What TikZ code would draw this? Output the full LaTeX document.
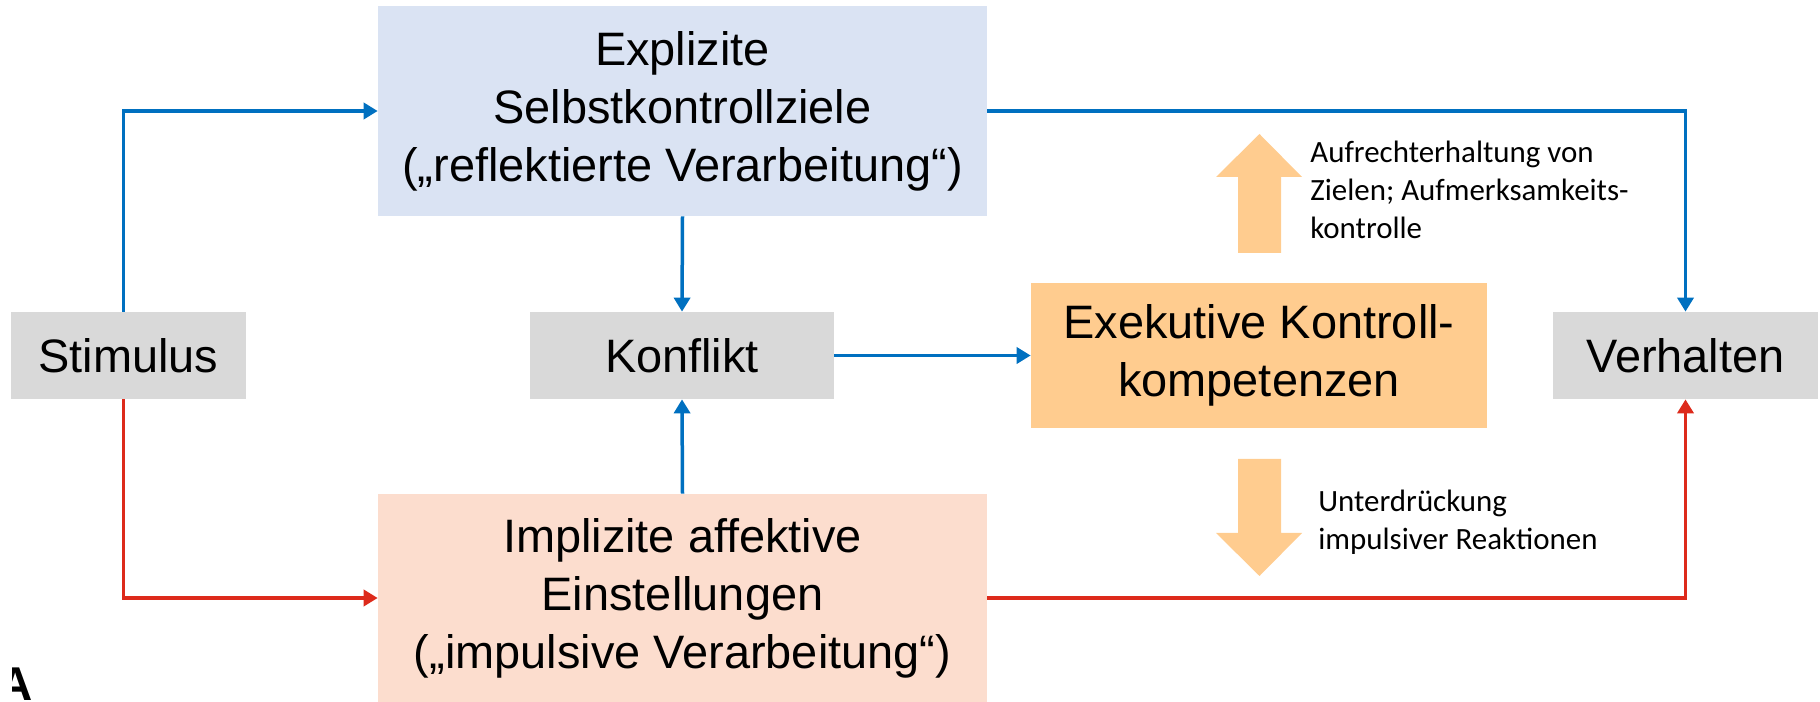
\documentclass[tikz,border=0pt]{standalone}
\usepackage{fontspec}
\setmainfont{Liberation Sans}
\newfontfamily\notefont{Carlito}
\usetikzlibrary{arrows.meta}

\definecolor{explblue}{HTML}{DAE3F3}
\definecolor{implrose}{HTML}{FCDDCE}
\definecolor{boxgray}{HTML}{D9D9D9}
\definecolor{exekorange}{HTML}{FFCC8F}
\definecolor{lineblue}{HTML}{0070C0}
\definecolor{linered}{HTML}{DD2A1B}

\tikzset{
  box/.style={inner sep=0pt, align=center, font=\fontsize{26.7}{33}\selectfont},
  graybox/.style={box, fill=boxgray, minimum height=1.74cm},
  bluearr/.style={draw=lineblue, line width=0.07cm, -{Triangle[length=0.28cm,width=0.32cm]}},
  redarr/.style={bluearr, draw=linered},
  note/.style={anchor=west, align=left, inner sep=0pt, font=\notefont\fontsize{17.6}{21.6}\selectfont},
}

\begin{document}
\begin{tikzpicture}[x=0.02cm, y=-0.02cm]
    \useasboundingbox (0,0) rectangle (1820,702);
    \clip (0,0) rectangle (1820,702);

    % boxes
    \node[graybox, minimum width=4.7cm] (stim) at (128.5,355.5) {Stimulus};
    \node[graybox, minimum width=6.08cm] (konf) at (682,355.5) {Konflikt};
    \node[graybox, minimum width=5.3cm] (verh) at (1685.5,355.5) {Verhalten};
    \node[box, fill=explblue, minimum width=12.18cm, minimum height=4.2cm] (expl) at (682.5,111)
      {Explizite\\Selbstkontrollziele\\(„reflektierte Verarbeitung“)};
    \node[box, fill=implrose, minimum width=12.18cm, minimum height=4.16cm] (impl) at (682.5,598)
      {Implizite affektive\\Einstellungen\\(„impulsive Verarbeitung“)};
    \node[box, fill=exekorange, minimum width=9.12cm, minimum height=2.9cm] (exek) at (1259,355.5)
      {Exekutive Kontroll-\\kompetenzen};

    % connectors
    \draw[bluearr] ([xshift=-0.1cm]stim.north) |- (expl.west);
    \draw[redarr] ([xshift=-0.1cm]stim.south) |- (impl.west);
    \draw[bluearr] (expl.south) -- (konf.north);
    \draw[bluearr] (impl.north) -- (konf.south);
    \draw[bluearr] (konf.east) -- (exek.west);
    \draw[bluearr] (expl.east) -| (verh.north);
    \draw[redarr] (impl.east) -| (verh.south);

    % block arrows and notes
    \fill[exekorange] (1238,253) -- (1238,177) -- (1216,177) -- (1259.5,134) -- (1302,177) -- (1281,177) -- (1281,253) -- cycle;
    \fill[exekorange] (1238,459) -- (1238,533) -- (1216,533) -- (1259.5,576) -- (1302,533) -- (1281,533) -- (1281,459) -- cycle;
    \node[note] (keep) at (1310,190) {Aufrechterhaltung von\\Zielen; Aufmerksamkeits-\\kontrolle};
    \node[note] (supp) at (1318,522) {Unterdrückung\\impulsiver Reaktionen};

    \begin{scope}
      \clip (12,650) rectangle (60,702);
      \node[anchor=north, inner sep=0pt, font=\bfseries\fontsize{27}{27}\selectfont] (lbl) at (16,668) {A};
    \end{scope}
\end{tikzpicture}
\end{document}
